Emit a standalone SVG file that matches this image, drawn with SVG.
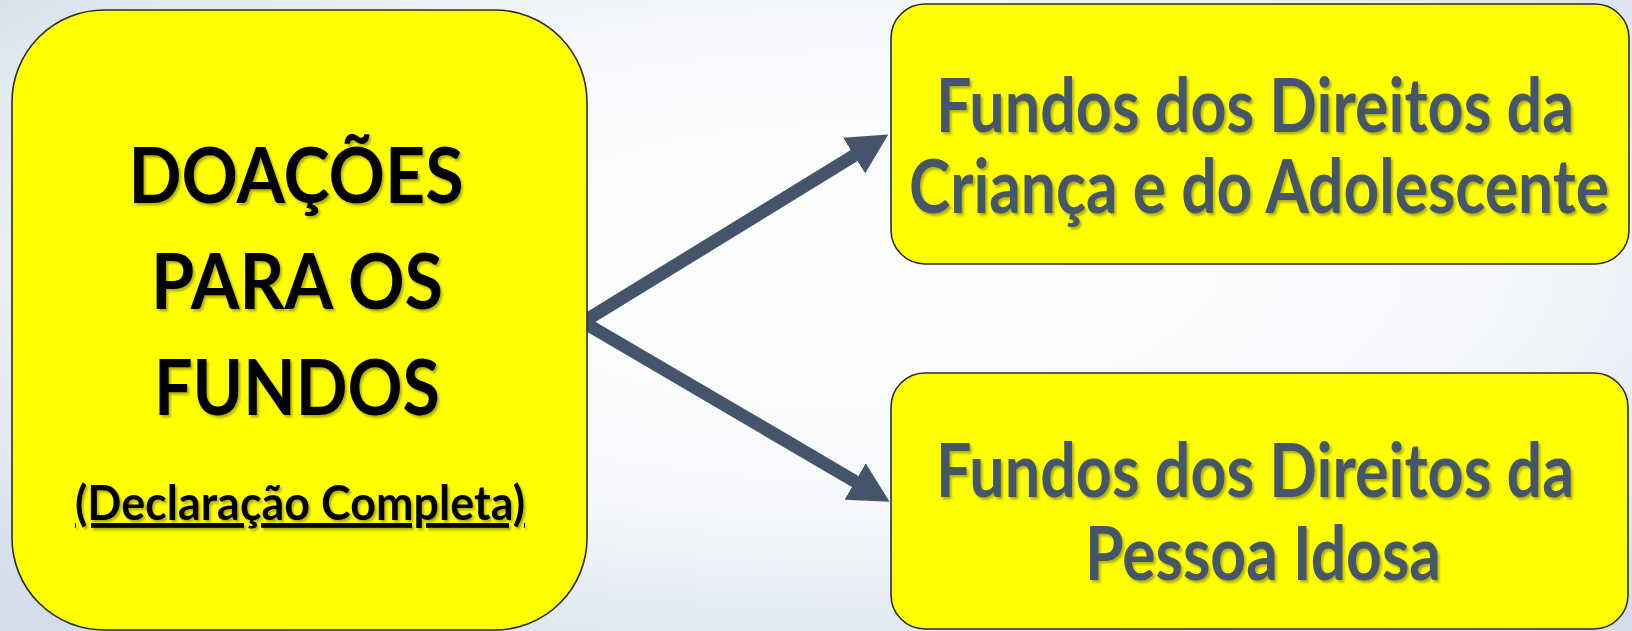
<svg xmlns="http://www.w3.org/2000/svg" width="1632" height="631" viewBox="0 0 1632 631">
<defs>
<radialGradient id="bg" cx="52%" cy="42%" r="72%">
<stop offset="0" stop-color="#ffffff"/>
<stop offset="0.55" stop-color="#f6f8fb"/>
<stop offset="1" stop-color="#d3deea"/>
</radialGradient>
<filter id="ts" filterUnits="userSpaceOnUse" x="0" y="0" width="1632" height="631">
<feDropShadow dx="2" dy="2.5" stdDeviation="1.2" flood-color="#000" flood-opacity="0.3"/>
</filter>
<marker id="ah" markerUnits="userSpaceOnUse" markerWidth="40" markerHeight="42" viewBox="0 0 40 42" refX="1" refY="21" orient="auto">
<path d="M0,0 L40,21 L0,42 Z" fill="#44546a"/>
</marker>
</defs>
<style>
.box{fill:#ffff00;stroke:#2b2b2b;stroke-width:1.6}
.t{font-family:Lato,"Open Sans","Liberation Sans",sans-serif;font-weight:700;text-anchor:middle}
.lt{fill:#000000;font-size:76px}
.sub{font-size:48px;text-decoration:underline;text-decoration-skip-ink:none}
.rt{fill:#44546a;font-size:58px}
.conn{fill:none;stroke:#44546a;stroke-width:13;stroke-linecap:butt}
</style>
<rect x="0" y="0" width="1632" height="631" fill="url(#bg)"/>

<g id="connectors">
<path class="conn" d="M583,322 L855,155" marker-end="url(#ah)"/>
<path class="conn" d="M583,322 L856,482" marker-end="url(#ah)"/>
</g>

<g id="node-doacoes">
<rect class="box" x="12" y="10" width="575" height="620" rx="92" ry="92"/>
<g filter="url(#ts)">
<text class="t lt" x="296" y="203" textLength="335" lengthAdjust="spacingAndGlyphs">DOAÇÕES</text>
<text class="t lt" x="297" y="309" textLength="292" lengthAdjust="spacingAndGlyphs">PARA OS</text>
<text class="t lt" x="297" y="415" textLength="286" lengthAdjust="spacingAndGlyphs">FUNDOS</text>
<text class="t lt sub" x="300" y="520" textLength="450" lengthAdjust="spacingAndGlyphs">(Declaração Completa)</text>
</g>
</g>

<g id="node-crianca">
<rect class="box" x="891" y="4" width="738" height="260" rx="34" ry="34"/>
<g filter="url(#ts)">
<text class="t rt" transform="translate(1255,132) scale(1,1.276)" textLength="638" lengthAdjust="spacingAndGlyphs">Fundos dos Direitos da</text>
<text class="t rt" transform="translate(1259,213) scale(1,1.276)" textLength="700" lengthAdjust="spacingAndGlyphs">Criança e do Adolescente</text>
</g>
</g>

<g id="node-idosa">
<rect class="box" x="891" y="373" width="737" height="256" rx="34" ry="34"/>
<g filter="url(#ts)">
<text class="t rt" transform="translate(1255,497) scale(1,1.276)" textLength="638" lengthAdjust="spacingAndGlyphs">Fundos dos Direitos da</text>
<text class="t rt" transform="translate(1263,580) scale(1,1.276)" textLength="356" lengthAdjust="spacingAndGlyphs">Pessoa Idosa</text>
</g>
</g>
</svg>
